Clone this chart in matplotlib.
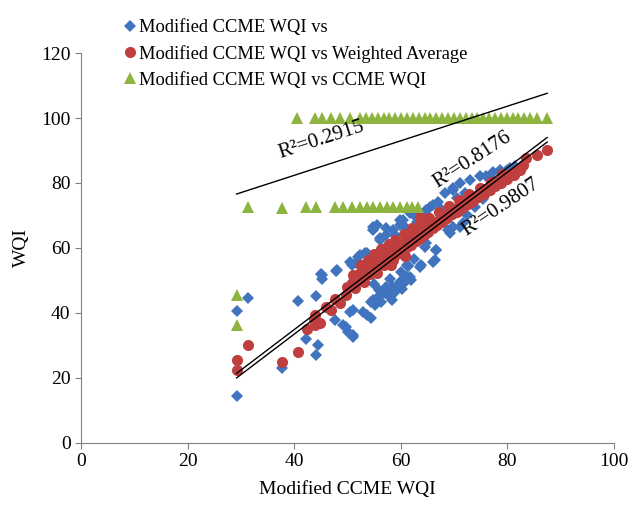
import matplotlib
matplotlib.use('Agg')
from matplotlib import pyplot as plt

plt.rcParams['font.family'] = ['Liberation Serif', 'DejaVu Serif']

# Modified CCME WQI vs (blue diamonds)
blue_x = [29.2, 29.2, 31.3, 37.8, 40.7, 42.3, 44.2, 44.4, 44.2, 45.0, 45.2, 47.8, 48.0,
          47.7, 49.2, 50.2, 51.1, 50.5, 53.0, 54.5, 54.5, 55.8, 56.4, 57.0, 58.3, 58.3,
          59.5, 60.8, 61.1, 61.3, 50.8, 52.0, 53.3, 45.2, 50.5, 52.3, 51.7, 55.5, 57.3,
          59.8, 61.7, 64.8, 66.7, 66.1, 63.6, 61.1, 57.3, 54.8, 51.1, 53.6, 49.8, 51.1,
          54.8, 56.1, 57.3, 53.6, 64.8, 66.1, 67.0, 68.3, 69.9, 71.1, 73.0, 74.9, 76.0,
          77.4, 78.6, 79.9, 65.5, 69.8, 62.5, 63.5, 69.9, 69.2, 71.7, 72.5, 74.0, 75.5,
          64.5, 66.7, 66.4, 63.9, 61.4, 61.7, 59.8, 58.6, 56.7, 60.5, 59.8, 58.6, 56.1,
          54.8, 68.9, 71.1, 57.3, 80.5, 81.5, 77.0, 55.2, 57.8, 59.0, 60.2, 62.0, 56.0,
          58.0, 60.0, 62.5, 55.0, 63.0, 65.0, 67.5, 70.5, 72.0, 59.0, 61.0]
blue_y = [14.5, 40.6, 44.7, 23.0, 43.7, 31.9, 27.1, 30.2, 45.2, 52.0, 50.5, 52.9, 53.2,
          37.8, 36.3, 34.2, 32.7, 40.4, 40.4, 38.4, 43.5, 45.0, 43.5, 46.0, 44.0, 47.1,
          48.1, 49.6, 51.2, 54.5, 54.8, 57.3, 58.4, 51.7, 55.8, 57.8, 55.3, 67.1, 66.0,
          68.6, 70.7, 61.4, 59.4, 55.8, 54.2, 54.8, 48.1, 44.0, 40.9, 39.4, 35.8, 33.2,
          66.6, 62.5, 60.4, 58.4, 71.7, 73.2, 74.2, 76.8, 78.4, 79.9, 80.9, 82.0, 82.2,
          83.5, 84.0, 84.0, 72.6, 77.8, 70.0, 70.5, 66.6, 64.5, 67.6, 70.0, 72.5, 75.0,
          60.4, 59.4, 56.3, 54.8, 54.3, 51.2, 49.6, 48.1, 46.0, 68.6, 67.1, 65.5, 63.0,
          65.5, 65.5, 66.6, 64.0, 84.5, 85.2, 81.0, 42.5, 45.2, 46.3, 47.5, 50.0, 47.0,
          50.5, 52.5, 56.5, 49.0, 68.0, 70.0, 72.0, 75.5, 77.0, 64.0, 66.0]

# Modified CCME WQI vs Weighted Average (red circles)
red_x = [29.2, 29.2, 31.3, 37.8, 40.7, 42.5, 43.8, 43.9, 44.8, 47.0, 47.7, 48.6,
         49.8, 50.0, 50.8, 51.4, 52.0, 52.3, 52.7, 53.0, 53.4, 53.9, 54.2, 54.6, 55.2,
         55.4, 55.8, 56.2, 56.7, 56.9, 57.3, 57.7, 58.3, 58.5, 58.9, 59.3, 59.7, 60.1,
         60.4, 60.8, 61.2, 61.6, 62.0, 62.4, 62.8, 63.2, 63.6, 63.6, 64.0, 64.4, 64.8,
         65.2, 65.6, 66.0, 66.5, 66.9, 67.4, 67.8, 68.3, 68.7, 69.2, 69.7, 70.2, 70.6,
         71.1, 71.6, 72.1, 72.6, 73.1, 73.6, 74.1, 74.6, 75.1, 75.6, 76.1, 76.7, 77.2,
         77.8, 78.3, 78.9, 79.4, 80.0, 80.6, 81.2, 81.8, 82.4, 83.0, 83.6, 85.5, 87.4,
         51.0, 52.5, 53.8, 55.0, 56.4, 57.9, 59.0, 60.6, 62.2, 63.8, 65.4, 67.2, 69.0,
         70.9, 72.8, 74.8, 76.9, 79.1, 53.2, 55.6, 58.1, 60.9, 44.0, 46.0]
red_y = [25.5, 22.5, 30.2, 25.0, 28.1, 35.0, 38.1, 36.3, 36.8, 40.9, 44.2, 43.0,
         45.5, 48.1, 49.1, 47.6, 50.7, 52.2, 53.2, 50.9, 52.4, 54.8, 51.9, 53.6, 56.3,
         53.1, 55.0, 57.4, 57.8, 54.9, 56.6, 59.0, 58.9, 56.3, 57.9, 60.4, 58.6, 61.2,
         59.1, 62.0, 60.2, 62.8, 61.0, 63.5, 62.1, 64.6, 69.6, 63.2, 65.3, 64.0, 66.2,
         65.0, 67.1, 66.0, 68.0, 67.0, 69.0, 68.1, 70.0, 69.1, 71.0, 70.3, 72.1, 71.2,
         73.0, 72.3, 74.0, 73.4, 75.1, 74.5, 76.1, 75.6, 77.2, 76.7, 78.3, 77.8, 79.4,
         79.0, 80.5, 80.1, 81.6, 81.3, 82.8, 82.6, 84.0, 84.0, 85.6, 87.6, 88.6, 90.2,
         51.8, 54.6, 56.4, 58.0, 59.6, 61.3, 62.4, 64.2, 66.0, 67.6, 69.2, 71.0, 72.9,
         74.8, 76.7, 78.6, 80.4, 82.7, 49.6, 52.2, 54.6, 57.6, 39.5, 41.8]

# Modified CCME WQI vs CCME WQI (green triangles)
green_x = [29.2, 29.2, 31.4, 37.8, 42.3, 44.2, 47.7, 49.2, 50.8, 52.3, 53.6, 54.8,
           56.1, 57.4, 58.6, 59.8, 61.1, 62.2, 63.3,
           40.5, 43.9, 45.2, 47.0, 48.6, 50.5, 52.3, 53.5, 54.6, 55.7, 56.8, 57.9, 59.0,
           60.1, 61.2, 62.3, 63.4, 64.5, 65.6, 66.7, 67.8, 68.9, 70.0, 71.1, 72.2, 73.3,
           74.4, 75.5, 76.6, 77.7, 78.8, 79.9, 81.0, 82.1, 83.2, 84.2, 85.5, 87.4]
green_y = [45.5, 36.3, 72.5, 72.2, 72.7, 72.7, 72.7, 72.7, 72.7, 72.7, 72.7, 72.7,
           72.7, 72.7, 72.7, 72.7, 72.7, 72.7, 72.7,
           100, 100, 100, 100, 100, 100, 100, 100, 100, 100, 100, 100, 100,
           100, 100, 100, 100, 100, 100, 100, 100, 100, 100, 100, 100, 100,
           100, 100, 100, 100, 100, 100, 100, 100, 100, 100, 100, 100]

# trendline end points
trend_x = [29.2, 87.5]
trend_green = [76.6, 107.6]
trend_red = [21.4, 94.0]
trend_blue = [20.0, 92.6]

fig = plt.figure(figsize=(6.38, 5.05), dpi=100)
ax = fig.add_axes([0.127, 0.123, 0.835, 0.772])

ax.plot(blue_x, blue_y, 'D', color='#4174BE', markersize=6, markeredgewidth=0,
        label='Modified CCME WQI vs')
ax.plot(red_x, red_y, 'o', color='#BF3F3F', markersize=8, markeredgewidth=0,
        label='Modified CCME WQI vs Weighted Average')
ax.plot(green_x, green_y, '^', color='#8DB43E', markersize=8, markeredgewidth=0,
        label='Modified CCME WQI vs CCME WQI')

ax.plot(trend_x, trend_green, color='black', linewidth=1)
ax.plot(trend_x, trend_red, color='black', linewidth=1)
ax.plot(trend_x, trend_blue, color='black', linewidth=1)

ax.text(45.2, 93.2, 'R²=0.2915', fontsize=15, rotation=18, ha='center', va='center',
        rotation_mode='anchor')
ax.text(73.4, 87.1, 'R²=0.8176', fontsize=15, rotation=33, ha='center', va='center',
        rotation_mode='anchor')
ax.text(78.8, 72.6, 'R²=0.9807', fontsize=15, rotation=34, ha='center', va='center',
        rotation_mode='anchor')

ax.set_xlim(0, 100)
ax.set_ylim(0, 120)
ax.set_xticks([0, 20, 40, 60, 80, 100])
ax.set_yticks([0, 20, 40, 60, 80, 100, 120])
ax.set_xlabel('Modified CCME WQI', fontsize=14, labelpad=8)
ax.set_ylabel('WQI', fontsize=14, labelpad=8)
ax.tick_params(labelsize=14, direction='out', length=4, color='#808080')
for s in ['top', 'right']:
    ax.spines[s].set_visible(False)
for s in ['left', 'bottom']:
    ax.spines[s].set_color('#808080')

fig.legend(loc='upper left', bbox_to_anchor=(0.195, 0.962), frameon=False, fontsize=13.3,
           handlelength=0.6, handletextpad=0.2, labelspacing=0.48, borderpad=0,
           borderaxespad=0)

plt.savefig('out.png', dpi=100)
